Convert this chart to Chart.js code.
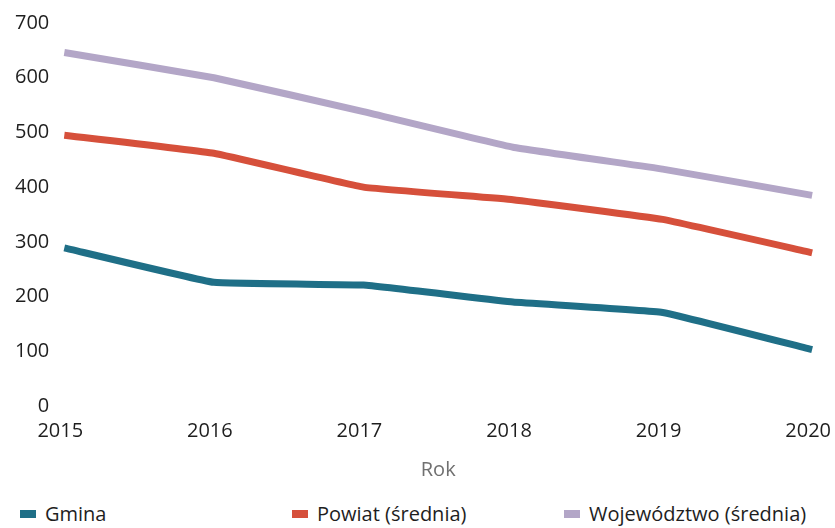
<!DOCTYPE html>
<html>
<head>
<meta charset="utf-8">
<script src="https://cdn.jsdelivr.net/npm/chart.js@4"></script>
<style>
  html, body { margin: 0; padding: 0; background: #fff; }
  #wrap { position: relative; width: 835px; height: 528px; }
  #legend { position: absolute; top: 500px; left: 0; width: 835px; height: 28px;
            font-family: "Open Sans", sans-serif; font-size: 20px; color: #1e1e1e; }
  #legend .item { position: absolute; top: 0; display: flex; align-items: center; }
  #legend .box { width: 16px; height: 8px; margin-right: 9px; }
</style>
</head>
<body>
<div id="wrap">
  <canvas id="chart" width="835" height="482"></canvas>
  <div id="legend"></div>
</div>
<script>
// Data
const years = ["2015", "2016", "2017", "2018", "2019", "2020"];
const gmina = [289, 226, 221, 190, 171, 103];
const powiat = [495, 462, 400, 377, 341, 280];
const wojewodztwo = [646, 600, 538, 473, 433, 385];
const seriesNames = ["Gmina", "Powiat (średnia)", "Województwo (średnia)"];
const seriesColors = ["#1f6f87", "#d6503b", "#b3a6c7"];
const yTicks = [0, 100, 200, 300, 400, 500, 600, 700];

const ctx = document.getElementById("chart").getContext("2d");
Chart.defaults.font.family = '"Open Sans", sans-serif';

const chart = new Chart(ctx, {
    type: "line",
    data: {
        labels: years,
        datasets: [gmina, powiat, wojewodztwo].map(function (values, i) {
            return {
                label: seriesNames[i],
                data: values,
                borderColor: seriesColors[i],
                backgroundColor: seriesColors[i],
                borderWidth: 7,
                pointRadius: 0,
                tension: 0.08,
                borderJoinStyle: "round",
                clip: false,
            };
        }),
    },
    options: {
        responsive: false,
        animation: false,
        layout: { padding: { left: 0, right: 0, top: 23, bottom: 0 } },
        plugins: {
            legend: { display: false },
            tooltip: { enabled: false },
        },
        scales: {
            x: {
                offset: false,
                grid: { display: true, color: "rgba(0,0,0,0)", drawTicks: true, tickLength: 13 },
                border: { display: false },
                ticks: { color: "#1e1e1e", font: { size: 20 }, padding: 0, labelOffset: -4, maxRotation: 0 },
                title: { display: true, text: "Rok", color: "#707070", font: { size: 20 }, padding: { top: 15, bottom: 0 } },
            },
            y: {
                min: 0,
                max: 700,
                afterBuildTicks: function (axis) {
                    axis.ticks = yTicks.map(function (v) { return { value: v }; });
                },
                afterFit: function (axis) {
                    axis.paddingTop = 0;
                },
                grid: { display: false, drawTicks: false },
                border: { display: false },
                ticks: { color: "#1e1e1e", font: { size: 20 }, padding: 15 },
            },
        },
    },
});

// Legend spread across the width like the original
const legendX = [20, 292, 564];
const legend = document.getElementById("legend");
seriesNames.forEach(function (name, i) {
    const item = document.createElement("div");
    item.className = "item";
    item.style.left = legendX[i] + "px";
    item.innerHTML = '<span class="box" style="background:' + seriesColors[i] + '"></span>' + name;
    legend.appendChild(item);
});
</script>
</body>
</html>
